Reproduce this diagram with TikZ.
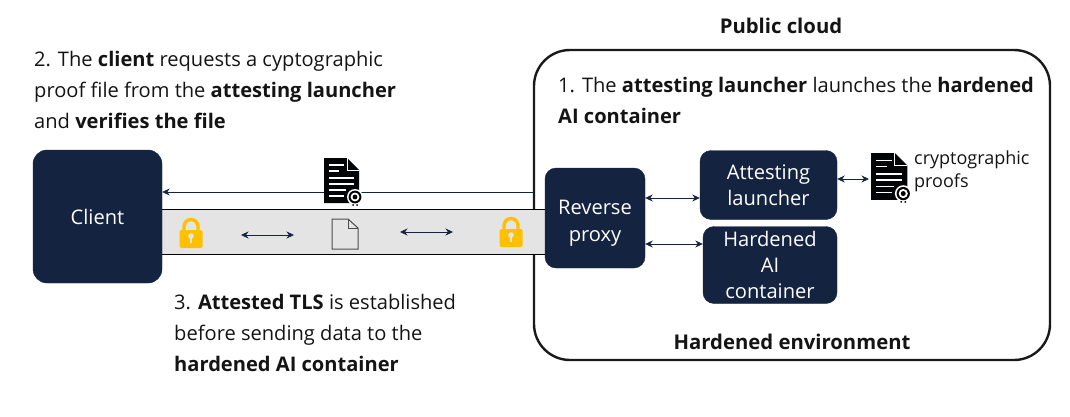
\documentclass[tikz,border=0pt]{standalone}
\usepackage{fontspec}
\setmainfont{Open Sans}
\usetikzlibrary{arrows.meta,positioning,calc}
\definecolor{navy}{HTML}{14233F}
\definecolor{lockgold}{HTML}{FFC000}
\definecolor{tunnelgray}{HTML}{E4E4E4}
\tikzset{
        every node/.style={text=black!92, font=\fontsize{20.1}{31}\selectfont},
        box/.style={ % dark boxes
            draw=navy,
            fill=navy,
            text=white,
            align=center,
            rounded corners=11pt,
            font=\fontsize{20.1}{26}\selectfont,
            inner sep=0pt},
        note/.style={
            anchor=west,
            align=left,
            inner sep=0pt},
        title/.style={
            inner sep=0pt,
            font=\fontsize{20.3}{31}\selectfont\bfseries},
        link/.style={
            draw=navy,
            <->,>={Stealth[length=7.5pt,width=7pt]},
            line width=.7pt},
        pics/lockicon/.style={code={
            \draw[lockgold, line width=3.4pt] (-7,0) -- (-7,-4.5) arc[start angle=180, end angle=360, radius=7] -- (7,0);
            \fill[lockgold, rounded corners=1.5pt] (-11.5,-1) rectangle (11.5,17);
            \fill[tunnelgray] (0,5) circle (2.8);
            \fill[tunnelgray] (-1.3,6) rectangle (1.3,12);
        }},
        pics/prooficon/.style={code={
            \fill[black!90!navy] (0,0) -- (23,0) -- (35,12) -- (35,45) -- (0,45) -- cycle;
            \draw[white, line width=.9pt] (23,0) -- (23,12) -- (35,12);
            \foreach \yy/\xx in {7/20, 13/15, 20/30, 26/30, 32/22, 38/20}
                \draw[white, line width=1.4pt] (5,\yy) -- (\xx,\yy);
            \fill[white] (31,39) circle (8);
            \fill[black] (31,39) circle (6.4);
            \fill[white] (31,39) circle (4.4);
            \fill[black] (31,39) circle (2.4);
            \fill[black] (29,47) circle (1) (33,47) circle (1);
        }},
        pics/fileicon/.style={code={
            \draw[black!70, fill=tunnelgray, line width=1pt] (0,0) -- (16,0) -- (26,9) -- (26,30) -- (0,30) -- cycle;
            \draw[black!70, line width=1pt] (16,0) -- (16,9) -- (26,9);
        }}
        }

\begin{document}
\begin{tikzpicture}[x=1pt, y=-1pt]
    \useasboundingbox (0,0) rectangle (1070,417);

    % environment and tunnel
    \node[draw=black!90, line width=2.4pt, rounded corners=36pt, minimum width=516pt, minimum height=310pt, inner sep=0pt] (cloud) at (792,205) {};
    \node[title] (cloudtitle) at (781,26) {Public cloud};
    \node[title] (envtitle) at (792,342) {Hardened environment};
    \node[draw=black, fill=tunnelgray, line width=.8pt, minimum width=386pt, minimum height=45pt, inner sep=0pt] (tunnel) at (353,231.5) {};

    % boxes
    \node[box, minimum width=129pt, minimum height=133pt, rounded corners=14pt] (client) at (97.5,216.5) {\raisebox{-2pt}{Client}};
    \node[box, minimum width=100pt, minimum height=100pt] (proxy) at (595,218) {};
    \node[text=white, align=center, inner sep=0pt, font=\fontsize{20.1}{27}\selectfont] (proxytext) at ([yshift=-5pt]proxy.center) {Reverse\\proxy};
    \node[box, minimum width=137pt, minimum height=69pt] (launcher) at (768.5,185) {Attesting\\launcher};
    \node[box, minimum width=134pt, minimum height=77pt] (hardened) at (770,265) {Hardened\\AI\\container};

    % icons
    \draw[link, <-] ([yshift=24.5pt]client.east) -- ([yshift=13pt]cloud.west);
    \pic at (324,158) {prooficon};
    \pic[scale=1.04] at (871,153) {prooficon};
    \node[inner sep=0pt, font=\fontsize{18}{23}\selectfont, align=left, anchor=west] (prooftext) at (914,171) {cryptographic\\proofs};
    \pic at (191,231) {lockicon};
    \pic at (511,230) {lockicon};
    \pic at (332,219) {fileicon};

    % links
    \coordinate (tunnela) at (241,235);
    \coordinate (tunnelb) at (294,235);
    \coordinate (tunnelc) at (400,232);
    \coordinate (tunneld) at (453,232);
    \draw[link] (tunnela) -- (tunnelb);
    \draw[link] (tunnelc) -- (tunneld);
    \draw[link] ([yshift=20pt]proxy.east) -- ([yshift=-13pt]launcher.west);
    \draw[link] ([yshift=-26pt]proxy.east) -- ([yshift=21pt]hardened.west);
    \coordinate (proofs) at (869,179);
    \draw[link] (launcher.east |- proofs) -- (proofs);

    % notes
    \node[note] (stepone) at (558,100) {1. The \textbf{attesting launcher} launches the \textbf{hardened}\\\textbf{AI container}};
    \node[note] (steptwo) at (34,90) {2. The \textbf{client} requests a cyptographic\\proof file from the \textbf{attesting launcher}\\and \textbf{verifies the file}};
    \node[note] (stepthree) at (174,333) {3. \textbf{Attested TLS} is established\\before sending data to the\\\textbf{hardened AI container}};
\end{tikzpicture}
\end{document}
